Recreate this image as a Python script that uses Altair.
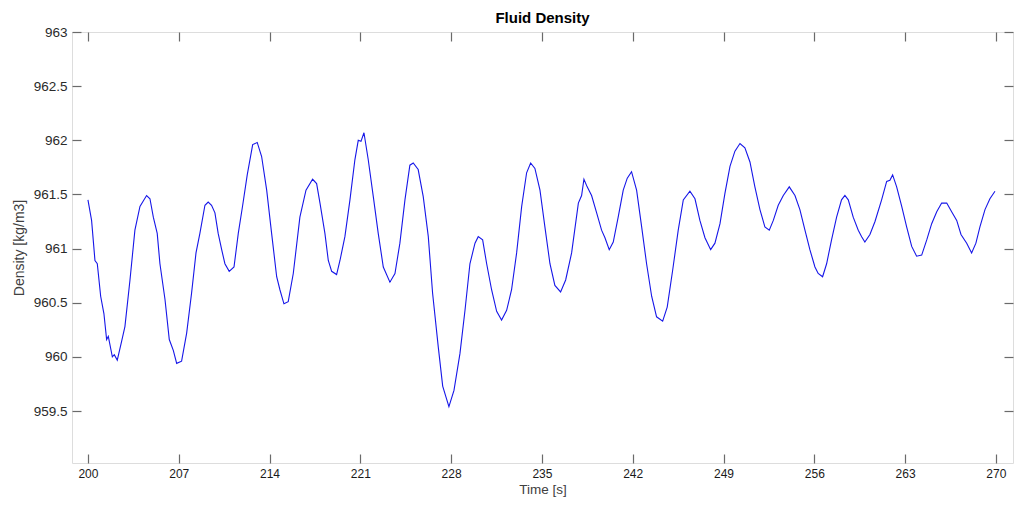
import altair as alt
import pandas as pd

time_s = [
    200.00, 200.28, 200.54, 200.72, 200.98, 201.23, 201.44, 201.57, 201.88, 202.03,
    202.26, 202.59, 202.85, 203.24, 203.62, 204.01, 204.52, 204.78, 205.04, 205.34,
    205.55, 205.94, 206.27, 206.58, 206.84, 207.22, 207.61, 207.99, 208.33, 208.63,
    209.02, 209.27, 209.53, 209.79, 210.04, 210.31, 210.56, 210.89, 211.26, 211.59,
    211.93, 212.28, 212.70, 213.05, 213.39, 213.78, 214.16, 214.55, 214.80, 215.11,
    215.44, 215.83, 216.34, 216.81, 217.32, 217.63, 217.89, 218.27, 218.53, 218.79,
    219.17, 219.43, 219.81, 220.20, 220.58, 220.84, 221.05, 221.28, 221.61, 222.00,
    222.38, 222.77, 223.28, 223.67, 224.05, 224.44, 224.82, 225.08, 225.46, 225.85,
    226.24, 226.57, 227.01, 227.35, 227.60, 227.83, 228.22, 228.68, 229.07, 229.45,
    229.84, 230.09, 230.43, 230.74, 231.12, 231.51, 231.89, 232.28, 232.66, 233.05,
    233.44, 233.82, 234.13, 234.46, 234.85, 235.23, 235.62, 236.00, 236.44, 236.83,
    237.29, 237.81, 238.06, 238.24, 238.49, 238.83, 239.22, 239.60, 239.86, 240.19,
    240.50, 240.88, 241.27, 241.58, 241.91, 242.30, 242.69, 243.07, 243.46, 243.84,
    244.31, 244.66, 245.08, 245.51, 245.90, 246.41, 246.80, 247.18, 247.57, 248.01,
    248.34, 248.73, 249.11, 249.50, 249.88, 250.27, 250.65, 251.04, 251.42, 251.81,
    252.19, 252.53, 252.84, 253.22, 253.61, 254.07, 254.51, 254.89, 255.28, 255.66,
    256.05, 256.30, 256.64, 256.95, 257.33, 257.72, 258.10, 258.36, 258.62, 259.00,
    259.39, 259.65, 259.90, 260.29, 260.68, 261.19, 261.58, 261.83, 262.04, 262.35,
    262.74, 263.12, 263.51, 263.89, 264.28, 264.67, 265.05, 265.44, 265.82, 266.21,
    266.59, 266.98, 267.31, 267.75, 268.13, 268.46, 268.77, 269.16, 269.54, 269.93,
]

density = [
    961.45, 961.26, 960.89, 960.86, 960.56, 960.40, 960.16, 960.19, 960.00, 960.02,
    959.97, 960.14, 960.28, 960.71, 961.17, 961.39, 961.49, 961.46, 961.29, 961.14,
    960.86, 960.53, 960.16, 960.06, 959.94, 959.96, 960.22, 960.59, 960.96, 961.14,
    961.40, 961.43, 961.40, 961.33, 961.14, 960.99, 960.86, 960.79, 960.83, 961.14,
    961.40, 961.68, 961.96, 961.98, 961.85, 961.54, 961.14, 960.74, 960.62, 960.49,
    960.51, 960.77, 961.29, 961.54, 961.64, 961.60, 961.42, 961.14, 960.89, 960.79,
    960.76, 960.89, 961.11, 961.45, 961.82, 962.00, 961.99, 962.07, 961.82, 961.48,
    961.14, 960.83, 960.69, 960.77, 961.05, 961.45, 961.77, 961.79, 961.73, 961.48,
    961.11, 960.59, 960.09, 959.73, 959.63, 959.54, 959.69, 960.03, 960.43, 960.86,
    961.05, 961.11, 961.08, 960.86, 960.62, 960.42, 960.34, 960.43, 960.62, 960.96,
    961.39, 961.70, 961.79, 961.74, 961.54, 961.20, 960.86, 960.66, 960.60, 960.71,
    960.96, 961.42, 961.49, 961.64, 961.57, 961.49, 961.33, 961.17, 961.10, 960.99,
    961.06, 961.29, 961.54, 961.65, 961.71, 961.54, 961.20, 960.86, 960.56, 960.37,
    960.33, 960.46, 960.80, 961.17, 961.45, 961.53, 961.46, 961.26, 961.10, 960.99,
    961.05, 961.23, 961.51, 961.76, 961.90, 961.97, 961.93, 961.80, 961.57, 961.36,
    961.20, 961.17, 961.26, 961.40, 961.49, 961.57, 961.49, 961.36, 961.17, 960.99,
    960.83, 960.77, 960.74, 960.86, 961.08, 961.29, 961.45, 961.49, 961.45, 961.29,
    961.17, 961.11, 961.06, 961.13, 961.25, 961.45, 961.62, 961.63, 961.68, 961.57,
    961.39, 961.20, 961.02, 960.93, 960.94, 961.08, 961.23, 961.34, 961.42, 961.42,
    961.34, 961.26, 961.13, 961.05, 960.96, 961.05, 961.20, 961.36, 961.46, 961.53,
]

x_ticks = [200, 207, 214, 221, 228, 235, 242, 249, 256, 263, 270]
y_ticks = [959.5, 960, 960.5, 961, 961.5, 962, 962.5, 963]
x_domain = [198.77, 271.32]
y_domain = [959.02, 963]

df = pd.DataFrame({"t": time_s, "d": density})

FONT = "Liberation Sans"
AX = "#6a6a6a"
TK = 9

xs = alt.Scale(domain=x_domain, nice=False, zero=False)
ys = alt.Scale(domain=y_domain, nice=False, zero=False)

main = alt.Chart(df).mark_line(color="#1616e8", strokeWidth=1.1, clip=True).encode(
    x=alt.X("t:Q", scale=xs, title="Time [s]",
            axis=alt.Axis(orient="bottom", values=x_ticks, format="d", grid=False,
                          domain=False, offset=-TK, tickSize=TK, tickColor=AX,
                          tickWidth=1.2,
                          labelPadding=5, labelFontSize=12, labelColor="#1a1a1a",
                          labelFont=FONT, titleFont=FONT, titleFontSize=13.5,
                          titleFontWeight="normal", titleColor="#404040",
                          titlePadding=3)),
    y=alt.Y("d:Q", scale=ys, title="Density [kg/m3]",
            axis=alt.Axis(orient="left", values=y_ticks, format="~f", grid=False,
                          domain=False, offset=-TK, tickSize=TK, tickColor=AX,
                          tickWidth=1.2,
                          labelPadding=5, labelFontSize=13.5, labelColor="#2a2a2a",
                          labelFont=FONT, titleFont=FONT, titleFontSize=14,
                          titleFontWeight="normal", titleColor="#404040",
                          titlePadding=7)),
)

box = alt.Chart(df).mark_line(opacity=0).encode(
    x=alt.X("t:Q", scale=xs, title=None,
            axis=alt.Axis(orient="top", values=x_ticks, labels=False, grid=False,
                          domain=False, offset=-TK, tickSize=TK, tickColor=AX,
                          tickWidth=1.2)),
    y=alt.Y("d:Q", scale=ys, title=None,
            axis=alt.Axis(orient="right", values=y_ticks, labels=False, grid=False,
                          domain=False, offset=-TK, tickSize=TK, tickColor=AX,
                          tickWidth=1.2)),
)

chart = alt.layer(main, box).resolve_axis(x="independent", y="independent").properties(
    width=941,
    height=431,
    autosize=alt.AutoSizeParams(type="none"),
    padding={"left": 64, "top": 24, "right": 1, "bottom": 34},
    title=alt.Title("Fluid Density", font=FONT, fontSize=15, fontWeight="bold",
                    color="#000000", offset=9, dy=10, anchor="middle", frame="group"),
).configure_view(stroke=AX, strokeWidth=1.5).configure(background="white")

chart.save("out.html", embed_options={"renderer": "svg", "actions": False})
